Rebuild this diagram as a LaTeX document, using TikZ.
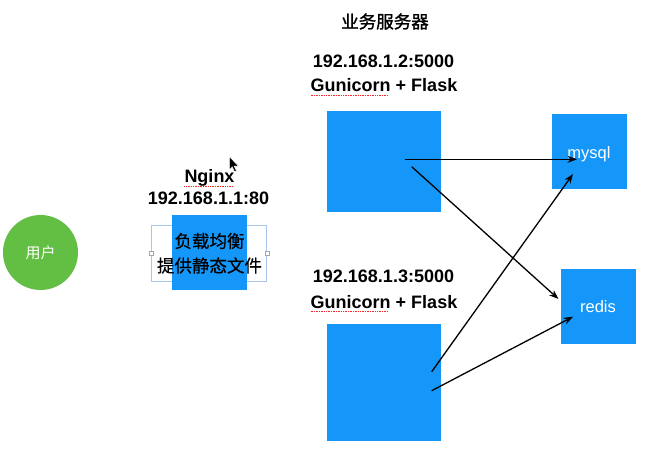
\documentclass[tikz,border=0pt]{standalone}
\usepackage{fontspec}
\setmainfont{Liberation Sans}
\newfontfamily\cjk{Noto Sans CJK SC}
\newfontfamily\cjkm[FakeBold=0.6]{Noto Sans CJK SC}
\newfontfamily\cjkb[FakeBold=1.4]{Noto Sans CJK SC}
\usetikzlibrary{arrows.meta}
\definecolor{boxblue}{RGB}{21,151,250}
\definecolor{ugreen}{RGB}{99,190,68}
\definecolor{selblue}{RGB}{170,196,240}
\begin{document}
\begin{tikzpicture}[x=1pt,y=-1pt,
  bluebox/.style={fill=boxblue, draw=none, inner sep=0pt},
  lbl/.style={font=\bfseries\fontsize{18}{18}\selectfont, anchor=base, inner sep=0pt},
  cjklbl/.style={font=\cjkm\fontsize{17.5}{17.5}\selectfont, inner sep=0pt},
  wlbl/.style={font=\fontsize{16.5}{16.5}\selectfont, text=white, inner sep=0pt},
  conn/.style={-{Stealth[length=9.5pt,width=7pt]}, line width=1.3pt, black},
  squig/.style={red!85, line width=0.7pt, densely dotted}
]
\useasboundingbox (0,0) rectangle (648,457);
\fill[white] (0,0) rectangle (648,457);

% user
\node[circle, fill=ugreen, minimum size=75pt, inner sep=0pt,
      font=\cjk\fontsize{15}{15}\selectfont, text=white] (user) at (40.5,252.5) {用户};

% nginx
\node[draw=selblue, line width=0.6pt, minimum width=115pt, minimum height=56pt, inner sep=0pt] (sel) at (209.2,253) {};
\node[bluebox, minimum width=75pt, minimum height=75pt] (nginx) at (209.5,252.5) {};
\foreach \a in {west,east}
  \node[draw=gray!70, fill=white, line width=0.4pt, minimum size=3.5pt, inner sep=0pt] at (sel.\a) {};
\node[cjklbl] (lb) at (209.5,241) {负载均衡};
\node[cjklbl] (static) at (209.5,265.5) {提供静态文件};
\node[lbl] (ngname) at (209.5,183) {Nginx};
\node[lbl] (ngip) at (208.5,205) {192.168.1.1:80};
\draw[squig] (ngname.base west) ++(0,3) -- ++(49,0);

% title
\node[font=\cjkb\fontsize{17.5}{17.5}\selectfont, inner sep=0pt] (title) at (385,21.5) {业务服务器};

% server 1
\node[lbl] (s1ip) at (383.5,68) {192.168.1.2:5000};
\node[lbl] (s1app) at (384,92) {Gunicorn + Flask};
\node[bluebox, minimum width=114pt, minimum height=101pt] (s1) at (384,161.5) {};

% server 2
\node[lbl] (s2ip) at (383.5,282) {192.168.1.3:5000};
\node[lbl] (s2app) at (384,308) {Gunicorn + Flask};
\node[bluebox, minimum width=114pt, minimum height=117pt] (s2) at (384,382.5) {};

% spell-check marks
\draw[squig] (s1app.base west) ++(0,3.5) -- ++(77,0);
\draw[squig] (s2app.base west) ++(0,3.5) -- ++(77,0);

% databases
\node[bluebox, minimum width=75pt, minimum height=75pt] (mysql) at (589.5,151.5) {};
\node[wlbl] at (589,154) {mysql};
\node[bluebox, minimum width=75pt, minimum height=75pt] (redis) at (598.5,306.5) {};
\node[wlbl] at (598,307) {redis};

% connector endpoints
\coordinate (a1) at (405,159.3);
\coordinate (b1) at (577,159.3);
\coordinate (a2) at (411.7,166.7);
\coordinate (b2) at (558.5,299);
\coordinate (a3) at (431.7,371.7);
\coordinate (b3) at (573,174);
\coordinate (a4) at (431.7,390.7);
\coordinate (b4) at (573,316.7);

\draw[conn] (a1) -- (b1);
\draw[conn] (a2) -- (b2);
\draw[conn] (a3) -- (b3);
\draw[conn] (a4) -- (b4);

% mouse cursor
\filldraw[fill=black, draw=white, line width=0.6pt]
  (229.3,156.5) -- (229.3,170) -- (232.3,167) -- (234.5,172) -- (236.5,171)
  -- (234.3,166.2) -- (238.5,166) -- cycle;
\end{tikzpicture}
\end{document}
